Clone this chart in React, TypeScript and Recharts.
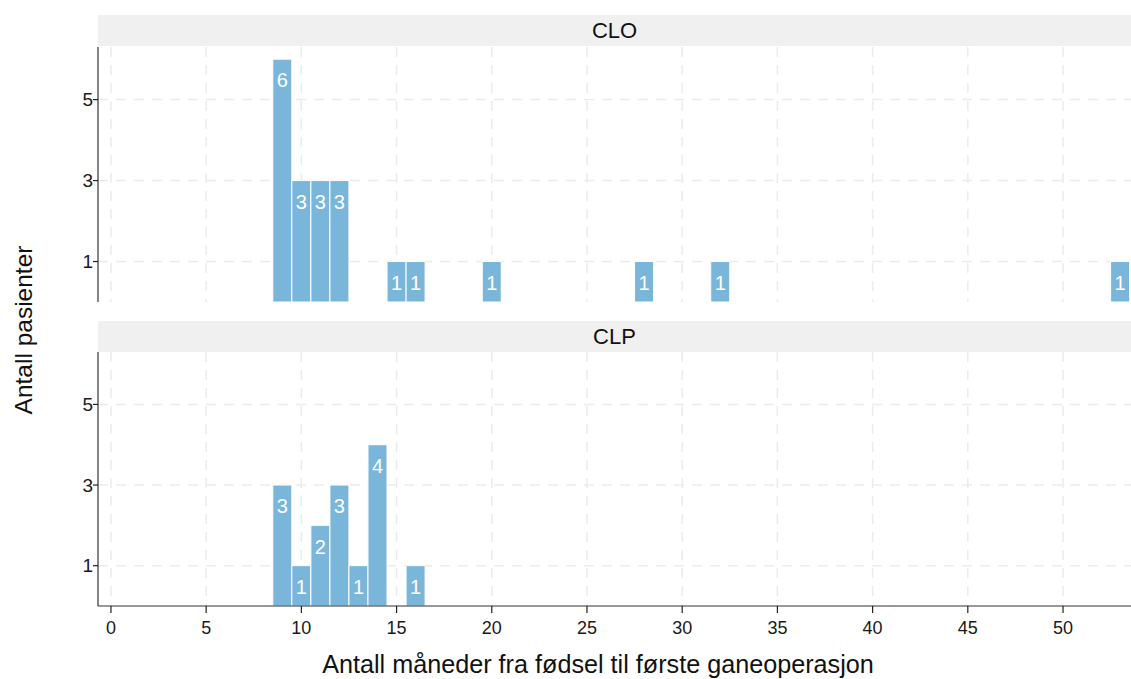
import { BarChart, Bar, XAxis, YAxis, CartesianGrid } from "recharts";

const months = Array.from({ length: 54 }, (_, i) => i);
const cloMonths = [9, 10, 11, 12, 15, 16, 20, 28, 32, 53];
const cloCounts = [6, 3, 3, 3, 1, 1, 1, 1, 1, 1];
const clpMonths = [9, 10, 11, 12, 13, 14, 16];
const clpCounts = [3, 1, 2, 3, 1, 4, 1];
const xTicks = [0, 5, 10, 15, 20, 25, 30, 35, 40, 45, 50];
const yTicks = [1, 3, 5];

const FONT = "'Liberation Sans', Arial, Helvetica, sans-serif";
const BAR = "#7ab5da";

const buildData = (ms: number[], cs: number[]) =>
  months.map((m) => {
    const i = ms.indexOf(m);
    return { month: m, n: i >= 0 ? cs[i] : null };
  });

const cloData = buildData(cloMonths, cloCounts);
const clpData = buildData(clpMonths, clpCounts);

const renderLabel = (props: any) => {
  const { x, y, width, value } = props;
  if (!value) return null;
  return (
    <text
      x={x + width / 2}
      y={y + 23}
      fill="#ffffff"
      fontSize={20}
      fontFamily={FONT}
      textAnchor="middle"
      dominantBaseline="middle"
    >
      {value}
    </text>
  );
};

function Panel({ data, showX }: { data: any[]; showX: boolean }) {
  return (
    <BarChart
      width={1131}
      height={showX ? 300 : 255}
      data={data}
      margin={{ top: 0, right: 0, bottom: 0, left: 0 }}
      barCategoryGap={0}
      barGap={0}
    >
      <CartesianGrid stroke="#ebebeb" strokeWidth={1.5} strokeDasharray="10 8" horizontalValues={yTicks} verticalValues={xTicks} />
      <XAxis
        dataKey="month"
        type="number"
        domain={[-0.68, 53.57]}
        ticks={xTicks}
        allowDataOverflow
        hide={!showX}
        height={46}
        tick={{ fill: "#1a1a1a", fontSize: 18, fontFamily: FONT, dy: 6 }}
        axisLine={{ stroke: "#333", strokeWidth: 1.2 }}
        tickLine={{ stroke: "#222", strokeWidth: 1.2 }}
        tickSize={7}
      />
      <YAxis
        type="number"
        domain={[0, 6.3]}
        ticks={yTicks}
        allowDataOverflow
        width={98}
        tick={{ fill: "#1a1a1a", fontSize: 19, fontFamily: FONT, dx: 2 }}
        axisLine={{ stroke: "#333", strokeWidth: 1.2 }}
        tickLine={{ stroke: "#222", strokeWidth: 1.2 }}
        tickSize={5}
      />
      <Bar dataKey="n" fill={BAR} stroke="#ffffff" strokeWidth={1} isAnimationActive={false} label={renderLabel} />
    </BarChart>
  );
}

const stripStyle: React.CSSProperties = {
  position: "absolute",
  left: 98,
  width: 1033,
  height: 31,
  background: "#f0f0f0",
  fontFamily: FONT,
  fontSize: 22,
  color: "#111",
  display: "flex",
  alignItems: "center",
  justifyContent: "center",
};

export default function App() {
  return (
    <div style={{ position: "absolute", left: 0, top: 0, width: 1131, height: 679, background: "#fff", fontFamily: FONT }}>
      <div style={{ ...stripStyle, top: 15 }}>CLO</div>
      <div style={{ position: "absolute", left: 0, top: 47 }}>
        <Panel data={cloData} showX={false} />
      </div>
      <div style={{ ...stripStyle, top: 321 }}>CLP</div>
      <div style={{ position: "absolute", left: 0, top: 352 }}>
        <Panel data={clpData} showX={true} />
      </div>
      <div
        style={{
          position: "absolute",
          left: 24,
          top: 330,
          transform: "translate(-50%, -50%) rotate(-90deg)",
          whiteSpace: "nowrap",
          fontSize: 24.5,
          color: "#111",
        }}
      >
        Antall pasienter
      </div>
      <div
        style={{
          position: "absolute",
          left: 598,
          top: 664,
          transform: "translate(-50%, -50%)",
          whiteSpace: "nowrap",
          fontSize: 25.2,
          color: "#111",
        }}
      >
        Antall måneder fra fødsel til første ganeoperasjon
      </div>
    </div>
  );
}
